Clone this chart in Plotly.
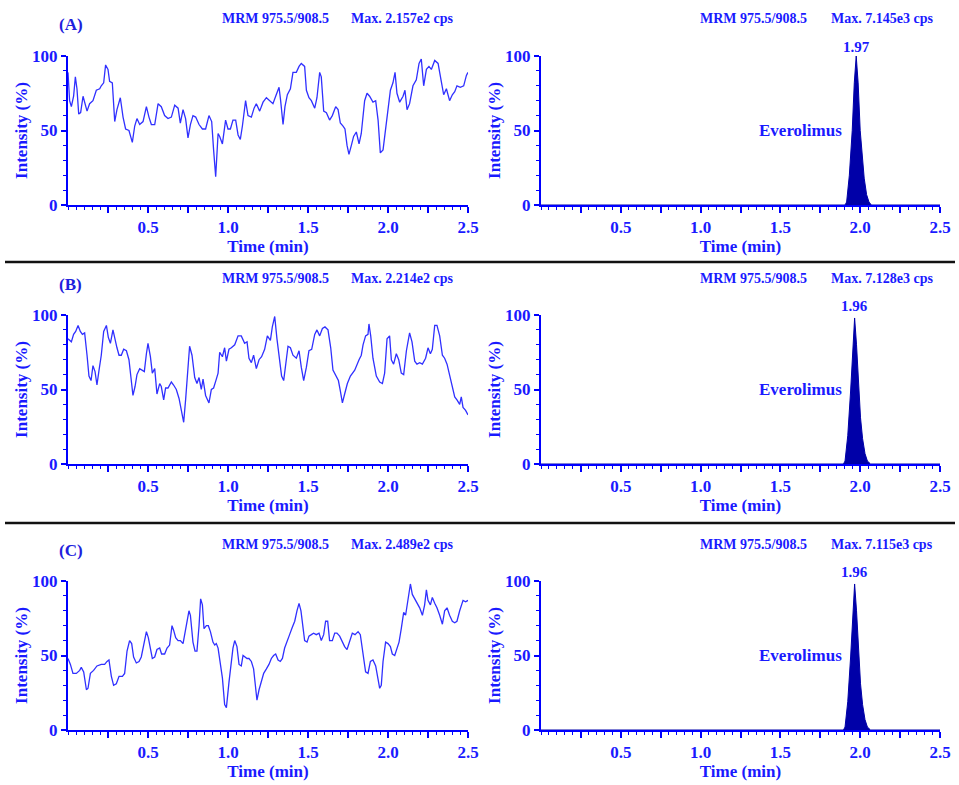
import plotly.graph_objects as go

# ---------------- data ----------------
time_A = [0.000,0.010,0.021,0.035,0.046,0.056,0.067,0.079,0.094,0.106,
          0.119,0.135,0.156,0.177,0.198,0.208,0.223,0.235,0.250,0.260,
          0.277,0.292,0.306,0.327,0.344,0.360,0.381,0.402,0.417,0.431,
          0.448,0.469,0.490,0.506,0.521,0.542,0.563,0.583,0.604,0.625,
          0.646,0.667,0.688,0.702,0.719,0.735,0.750,0.765,0.781,0.798,
          0.819,0.840,0.860,0.881,0.898,0.910,0.923,0.938,0.948,0.965,
          0.985,1.000,1.015,1.031,1.048,1.063,1.077,1.090,1.110,1.125,
          1.146,1.163,1.177,1.198,1.219,1.240,1.260,1.281,1.298,1.319,
          1.329,1.344,1.356,1.371,1.390,1.406,1.427,1.444,1.458,1.479,
          1.490,1.506,1.521,1.542,1.556,1.573,1.583,1.598,1.615,1.635,
          1.652,1.673,1.688,1.702,1.719,1.731,1.744,1.756,1.771,1.785,
          1.802,1.819,1.833,1.854,1.869,1.885,1.906,1.923,1.938,1.952,
          1.969,1.985,2.000,2.015,2.031,2.044,2.056,2.073,2.094,2.106,
          2.119,2.135,2.156,2.177,2.194,2.208,2.223,2.240,2.256,2.271,
          2.292,2.313,2.333,2.348,2.365,2.385,2.402,2.417,2.431,2.452,
          2.473,2.490,2.500]
intensity_A = [89,70,66,73,86,78,61,62,73,68,
               63,68,70,77,78,80,82,94,91,83,
               82,56,64,72,59,51,50,42,53,58,
               54,56,66,59,54,54,68,66,60,58,
               59,67,65,55,64,58,45,54,60,59,
               54,51,51,60,56,37,19,48,46,41,
               57,51,51,57,57,47,44,53,70,60,
               59,65,68,63,69,72,70,68,73,79,
               70,54,66,74,78,89,89,93,95,93,
               77,72,70,65,72,89,86,63,62,57,
               60,66,64,55,53,51,40,34,40,46,
               49,41,48,70,75,73,69,70,57,35,
               37,51,66,77,82,89,75,69,73,77,
               64,68,80,84,95,98,80,91,93,91,
               97,95,83,74,78,70,74,76,80,79,
               80,87,89]

time_B = [0.000,0.021,0.035,0.048,0.063,0.077,0.090,0.104,0.119,0.131,
          0.144,0.156,0.169,0.181,0.194,0.208,0.223,0.240,0.252,0.265,
          0.281,0.294,0.306,0.319,0.333,0.348,0.365,0.381,0.396,0.406,
          0.419,0.431,0.448,0.465,0.477,0.490,0.500,0.515,0.527,0.542,
          0.556,0.573,0.583,0.598,0.610,0.625,0.646,0.660,0.677,0.694,
          0.708,0.723,0.735,0.750,0.760,0.775,0.792,0.806,0.819,0.833,
          0.844,0.860,0.881,0.896,0.910,0.927,0.938,0.948,0.965,0.979,
          0.990,1.006,1.021,1.042,1.063,1.083,1.104,1.119,1.131,1.146,
          1.160,1.177,1.194,1.210,1.229,1.246,1.265,1.277,1.292,1.306,
          1.323,1.335,1.348,1.360,1.375,1.390,1.406,1.427,1.444,1.458,
          1.473,1.490,1.506,1.523,1.542,1.556,1.573,1.590,1.606,1.625,
          1.642,1.656,1.673,1.690,1.702,1.715,1.729,1.746,1.765,1.792,
          1.819,1.833,1.844,1.860,1.875,1.881,1.892,1.906,1.927,1.948,
          1.965,1.979,1.994,2.010,2.021,2.035,2.052,2.067,2.083,2.098,
          2.115,2.135,2.150,2.167,2.181,2.198,2.215,2.235,2.250,2.265,
          2.277,2.292,2.306,2.323,2.340,2.354,2.369,2.385,2.402,2.417,
          2.431,2.448,2.458,2.469,2.485,2.500]
intensity_B = [84,82,87,89,93,89,87,88,73,59,
               56,66,62,53,63,73,89,93,85,81,
               90,83,78,73,73,77,76,70,55,46,
               52,60,64,63,62,74,81,72,61,64,
               47,54,52,43,51,51,55,53,50,44,
               35,28,43,63,79,73,58,54,58,50,
               57,46,41,50,51,57,61,75,72,78,
               69,77,78,80,86,86,81,82,71,68,
               73,64,70,72,77,86,83,92,99,84,
               69,59,56,67,79,78,73,71,76,65,
               56,65,76,77,87,90,86,91,92,90,
               78,63,59,56,49,41,47,54,59,63,
               70,73,80,86,87,94,86,71,59,55,
               54,61,84,86,70,67,74,70,61,60,
               76,88,82,69,67,68,67,71,78,74,
               77,93,93,86,73,71,67,60,53,45,
               43,40,45,38,36,33]

time_C = [0.000,0.015,0.031,0.052,0.073,0.083,0.098,0.115,0.125,0.140,
          0.160,0.181,0.208,0.229,0.244,0.256,0.271,0.285,0.302,0.319,
          0.340,0.354,0.369,0.385,0.398,0.410,0.427,0.444,0.458,0.473,
          0.490,0.502,0.515,0.527,0.542,0.556,0.573,0.585,0.604,0.619,
          0.635,0.650,0.660,0.673,0.688,0.702,0.719,0.731,0.744,0.756,
          0.765,0.773,0.781,0.794,0.806,0.819,0.829,0.840,0.850,0.865,
          0.877,0.890,0.906,0.917,0.927,0.938,0.948,0.965,0.979,0.990,
          1.006,1.019,1.031,1.042,1.056,1.069,1.083,1.094,1.106,1.119,
          1.131,1.146,1.160,1.173,1.181,1.194,1.208,1.223,1.240,1.256,
          1.271,1.285,1.298,1.313,1.327,1.340,1.354,1.369,1.385,1.402,
          1.417,1.431,1.444,1.456,1.469,1.479,1.494,1.506,1.521,1.535,
          1.552,1.569,1.583,1.598,1.610,1.623,1.635,1.652,1.667,1.681,
          1.698,1.715,1.729,1.744,1.760,1.777,1.794,1.813,1.827,1.844,
          1.860,1.875,1.890,1.906,1.923,1.938,1.948,1.958,1.969,1.985,
          2.000,2.015,2.027,2.042,2.056,2.069,2.083,2.098,2.110,2.125,
          2.140,2.152,2.167,2.181,2.198,2.215,2.229,2.240,2.250,2.265,
          2.277,2.292,2.306,2.323,2.340,2.354,2.369,2.385,2.402,2.417,
          2.431,2.448,2.469,2.485,2.500]
intensity_C = [48,44,38,38,40,42,39,27,28,38,
               40,43,44,44,46,47,36,30,31,36,
               36,38,53,60,58,49,45,46,49,57,
               66,62,54,48,49,54,55,51,51,55,
               57,70,67,62,60,60,58,66,73,80,
               77,66,59,53,53,70,88,84,68,70,
               70,66,59,57,58,55,48,35,17,15,
               32,44,55,60,56,44,43,50,49,48,
               48,46,41,30,20,27,32,38,41,44,
               48,50,51,47,46,48,55,60,64,69,
               73,80,85,80,70,60,59,63,64,65,
               64,65,60,64,73,73,60,60,65,65,
               63,59,56,54,59,65,64,66,64,50,
               39,38,46,47,43,34,28,30,46,59,
               58,56,51,50,54,59,68,79,77,87,
               98,91,88,85,82,77,84,94,87,84,
               89,85,82,77,71,80,82,77,73,72,
               73,80,87,86,87]

peak_time_A = [0.0, 1.905, 1.915, 1.932, 1.950, 1.963, 1.975, 1.987, 2.000, 2.012, 2.025, 2.040, 2.055, 2.070, 2.5]
peak_int_A = [0, 0, 2, 20, 50, 82, 100, 82, 50, 32, 18, 7, 2, 0, 0]
peak_time_B = [0.0, 1.895, 1.905, 1.922, 1.940, 1.953, 1.965, 1.977, 1.990, 2.002, 2.015, 2.030, 2.045, 2.065, 2.5]
peak_int_B = [0, 0, 2, 19, 49, 80, 98, 80, 49, 31, 17, 7, 2, 0, 0]
peak_time_C = [0.0, 1.895, 1.905, 1.922, 1.940, 1.953, 1.965, 1.977, 1.990, 2.002, 2.015, 2.030, 2.045, 2.065, 2.5]
peak_int_C = [0, 0, 2, 19, 49, 80, 98, 80, 49, 31, 17, 7, 2, 0, 0]

panel_labels = ["(A)", "(B)", "(C)"]
rt_labels = ["1.97", "1.96", "1.96"]
rt_values = [1.975, 1.965, 1.965]
blank_max = ["Max. 2.157e2 cps", "Max. 2.214e2 cps", "Max. 2.489e2 cps"]
sample_max = ["Max. 7.145e3 cps", "Max. 7.128e3 cps", "Max. 7.115e3 cps"]
mrm_text = "MRM 975.5/908.5"
analyte = "Everolimus"
x_tick_vals = [0.25, 0.5, 0.75, 1.0, 1.25, 1.5, 1.75, 2.0, 2.25, 2.5]
x_tick_text = ["", "0.5", "", "1.0", "", "1.5", "", "2.0", "", "2.5"]
y_tick_vals = [0, 50, 100]

# ---------------- styling ----------------
W, H = 959, 785
FONT = "Liberation Serif"
BLUE = "#0000ff"
TXT = "#1a1aff"
LINE = "#3030ff"
NAVY = "#0000a8"

rows_px = [(56, 205), (315, 464), (581, 730)]
cols_px = [(68, 468), (541, 940)]

fig = go.Figure()
layout = dict(width=W, height=H, margin=dict(l=0, r=0, t=0, b=0, autoexpand=False),
              paper_bgcolor="white", plot_bgcolor="white", showlegend=False)

blank_series = [(time_A, intensity_A), (time_B, intensity_B), (time_C, intensity_C)]
peak_series = [(peak_time_A, peak_int_A), (peak_time_B, peak_int_B), (peak_time_C, peak_int_C)]

annotations = []
shapes = []
idx = 0
for r in range(3):
    top, bot = rows_px[r]
    ydom = [(H - bot) / H, (H - top) / H]
    for c in range(2):
        idx += 1
        xl, xr = cols_px[c]
        xdom = [xl / W, xr / W]
        xn = "xaxis" if idx == 1 else f"xaxis{idx}"
        yn = "yaxis" if idx == 1 else f"yaxis{idx}"
        xref = "x" if idx == 1 else f"x{idx}"
        yref = "y" if idx == 1 else f"y{idx}"
        layout[xn] = dict(
            domain=xdom, anchor=yref, range=[0, 2.5], showgrid=False, zeroline=False,
            automargin=False,
            showline=True, linecolor=BLUE, linewidth=2,
            ticks="outside", ticklen=6, tickwidth=1.5, tickcolor=BLUE,
            tickmode="array", tickvals=x_tick_vals, ticktext=x_tick_text,
            minor=dict(dtick=0.05, tick0=0, ticks="outside", ticklen=3, tickcolor=BLUE, tickwidth=1),
            tickfont=dict(family=FONT, size=17, color=TXT, weight="bold"),
            title=dict(text="Time (min)", standoff=0,
                       font=dict(family=FONT, size=17, color=TXT, weight="bold")),
        )
        layout[yn] = dict(
            domain=ydom, anchor=xref, range=[0, 100], showgrid=False, zeroline=False,
            automargin=False,
            showline=True, linecolor=BLUE, linewidth=2,
            ticks="outside", ticklen=5, tickwidth=1.5, tickcolor=BLUE,
            tickmode="array", tickvals=y_tick_vals,
            minor=dict(dtick=10, tick0=0, ticks="outside", ticklen=3, tickcolor=BLUE, tickwidth=1),
            tickfont=dict(family=FONT, size=17, color=TXT, weight="bold"),
            title=dict(text="Intensity (%)", standoff=0,
                       font=dict(family=FONT, size=17, color=TXT, weight="bold")),
        )
        if c == 0:
            tx, ty = blank_series[r]
            fig.add_trace(go.Scatter(x=tx, y=ty, mode="lines", xaxis=xref, yaxis=yref,
                                     line=dict(color=LINE, width=1.3)))
            max_txt = blank_max[r]
            max_right = xr - 13
        else:
            tx, ty = peak_series[r]
            fig.add_trace(go.Scatter(x=tx, y=ty, mode="lines", xaxis=xref, yaxis=yref,
                                     fill="tozeroy", fillcolor=NAVY,
                                     line=dict(color=NAVY, width=1)))
            max_txt = sample_max[r]
            max_right = xr - 5
            annotations.append(dict(x=rt_values[r], y=100, xref=xref, yref=yref,
                                    text=rt_labels[r], showarrow=False, yanchor="bottom",
                                    yshift=-1,
                                    font=dict(family=FONT, size=15, color=TXT, weight="bold")))
            annotations.append(dict(x=1.9, y=50, xref=xref, yref=yref,
                                    text=analyte, showarrow=False, xanchor="right",
                                    font=dict(family=FONT, size=17, color=TXT, weight="bold")))
        head_y = (H - (top - 37)) / H
        mrm_x = (xr - 248) / W if c == 0 else (xr - 242) / W
        annotations.append(dict(x=mrm_x, y=head_y, xref="paper", yref="paper",
                                text=mrm_text, showarrow=False, xanchor="left", yanchor="middle",
                                font=dict(family=FONT, size=14, color=TXT, weight="bold")))
        annotations.append(dict(x=max_right / W, y=head_y, xref="paper", yref="paper",
                                text=max_txt, showarrow=False, xanchor="right", yanchor="middle",
                                font=dict(family=FONT, size=14, color=TXT, weight="bold")))
    annotations.append(dict(x=57 / W, y=(H - (top - 31)) / H, xref="paper", yref="paper",
                            text=panel_labels[r], showarrow=False, xanchor="left", yanchor="middle",
                            font=dict(family=FONT, size=17, color="#2020dd", weight="bold")))

for yy in [262, 523]:
    shapes.append(dict(type="line", xref="paper", yref="paper",
                       x0=5 / W, x1=955 / W, y0=(H - yy) / H, y1=(H - yy) / H,
                       line=dict(color="#111111", width=2.5)))

layout["annotations"] = annotations
layout["shapes"] = shapes
fig.update_layout(**layout)

assert len(time_A) == len(intensity_A)
assert len(time_B) == len(intensity_B)
assert len(time_C) == len(intensity_C)

fig.write_html("out.html", config={"displayModeBar": False},
               post_script="document.body.style.margin='0';document.body.style.overflow='hidden';")
